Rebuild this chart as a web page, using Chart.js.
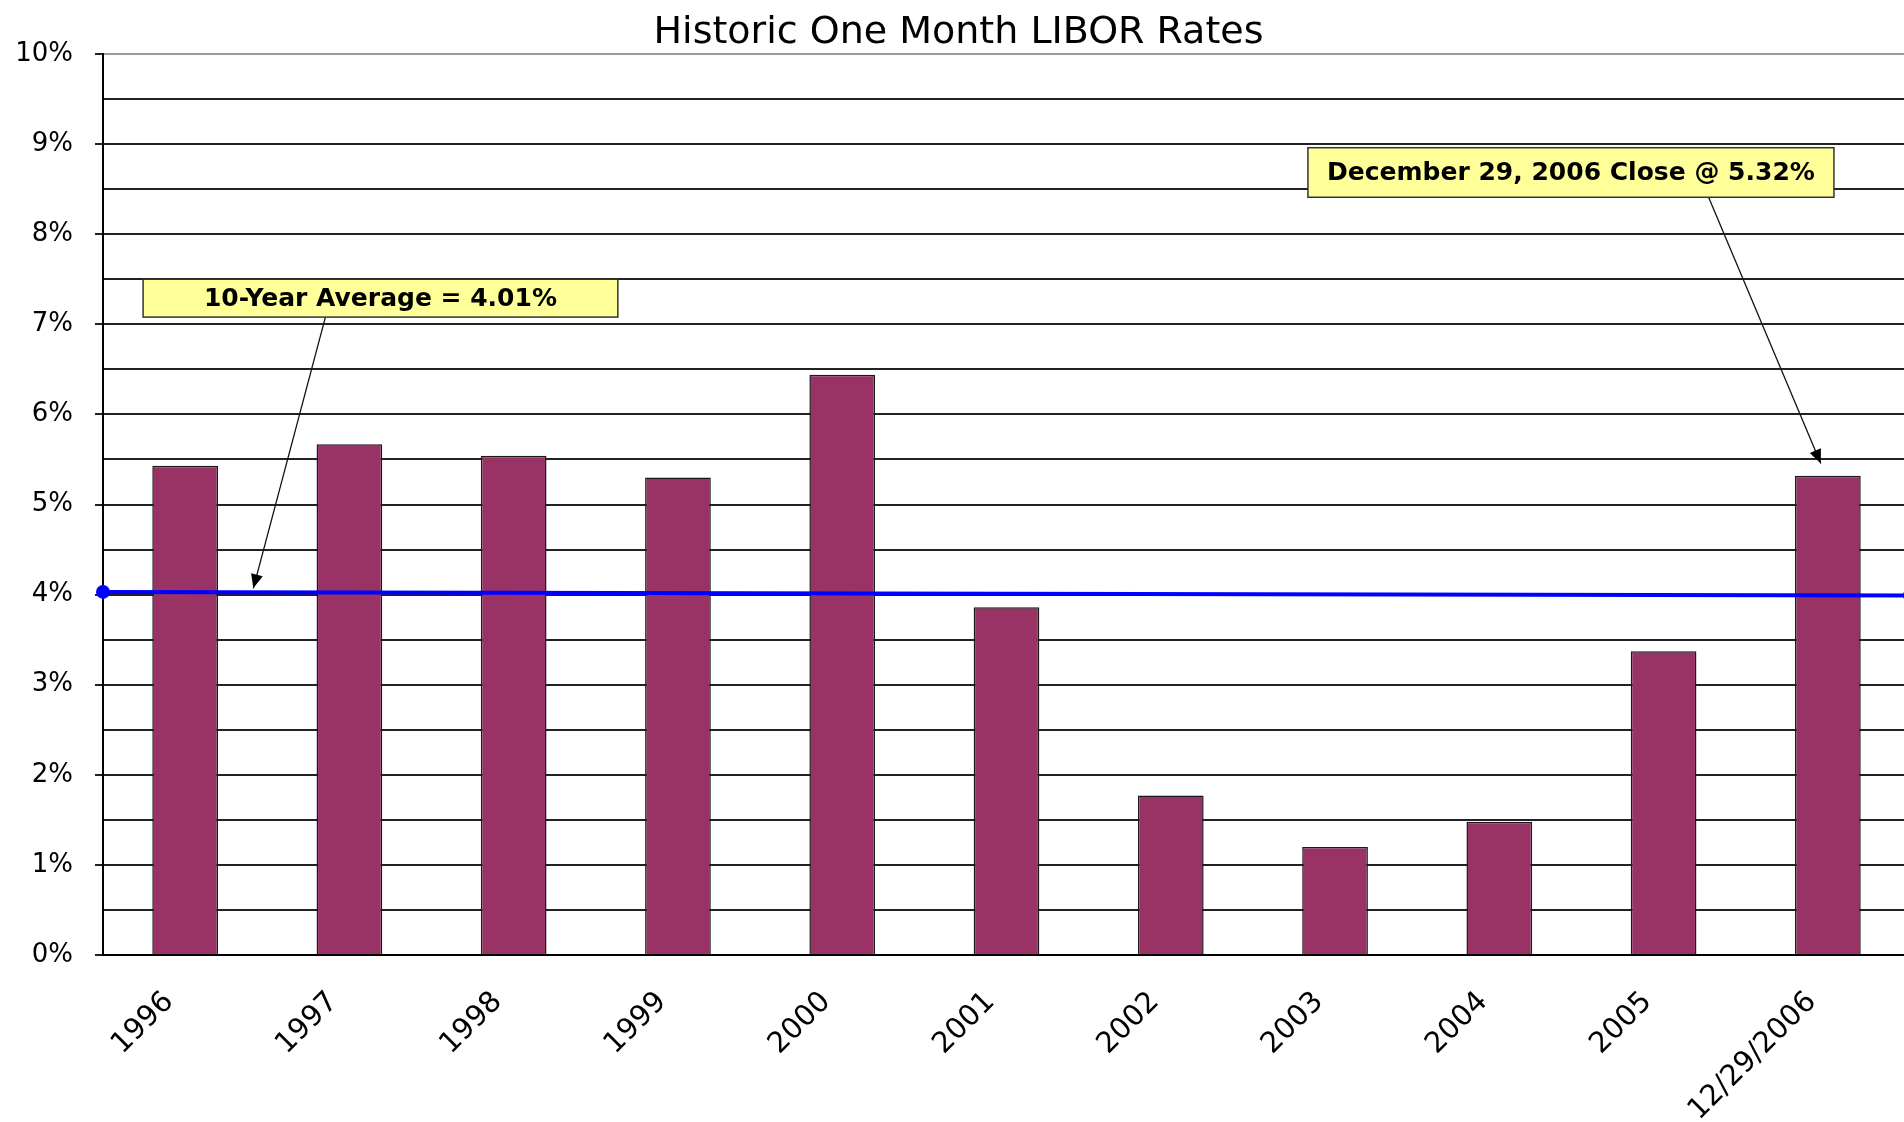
<!DOCTYPE html>
<html>
<head>
<meta charset="utf-8">
<title>Historic One Month LIBOR Rates</title>
<script src="https://cdn.jsdelivr.net/npm/chart.js@4.4.1/dist/chart.umd.min.js"></script>
<style>
  html, body { margin: 0; padding: 0; background: #ffffff; overflow: hidden; }
  #wrap { position: relative; width: 1917px; height: 1122px; }
</style>
</head>
<body>
<div id="wrap"><canvas id="chart"></canvas></div>
<script>
// ---- data ----
const categories = ['1996', '1997', '1998', '1999', '2000', '2001', '2002', '2003', '2004', '2005', '12/29/2006'];
const liborRates = [5.43, 5.67, 5.54, 5.30, 6.44, 3.86, 1.77, 1.20, 1.48, 3.37, 5.32];
const averageLine = [4.03, 3.99];
const titleText = 'Historic One Month LIBOR Rates';
const noteTexts = ['10-Year Average = 4.01%', 'December 29, 2006 Close @ 5.32%'];

// ---- annotation boxes with arrows (positions in data units: category index, percent) ----
const notesPlugin = {
  id: 'notes',
  afterDatasetsDraw(chart, args, opts) {
    const ctx = chart.ctx;
    const x = chart.scales.x, y = chart.scales.y;
    opts.items.forEach(n => {
      const bx1 = x.getPixelForValue(n.box[0]), by1 = y.getPixelForValue(n.box[1]);
      const bx2 = x.getPixelForValue(n.box[2]), by2 = y.getPixelForValue(n.box[3]);
      const ax1 = x.getPixelForValue(n.from[0]), ay1 = y.getPixelForValue(n.from[1]);
      const ax2 = x.getPixelForValue(n.to[0]), ay2 = y.getPixelForValue(n.to[1]);
      ctx.save();
      ctx.strokeStyle = '#111';
      ctx.lineWidth = 1.3;
      ctx.beginPath();
      ctx.moveTo(ax1, ay1);
      ctx.lineTo(ax2, ay2);
      ctx.stroke();
      const ang = Math.atan2(ay2 - ay1, ax2 - ax1);
      const L = 14, W = 6;
      ctx.fillStyle = '#000';
      ctx.beginPath();
      ctx.moveTo(ax2, ay2);
      ctx.lineTo(ax2 - L * Math.cos(ang) + W * Math.sin(ang), ay2 - L * Math.sin(ang) - W * Math.cos(ang));
      ctx.lineTo(ax2 - L * Math.cos(ang) - W * Math.sin(ang), ay2 - L * Math.sin(ang) + W * Math.cos(ang));
      ctx.closePath();
      ctx.fill();
      ctx.fillStyle = '#FFFF99';
      ctx.fillRect(bx1, by1, bx2 - bx1, by2 - by1);
      ctx.strokeStyle = '#333';
      ctx.lineWidth = 1.5;
      ctx.strokeRect(bx1, by1, bx2 - bx1, by2 - by1);
      ctx.fillStyle = '#000';
      ctx.font = 'bold 25px "DejaVu Sans", sans-serif';
      ctx.textAlign = 'center';
      ctx.textBaseline = 'middle';
      ctx.fillText(n.text, (bx1 + bx2) / 2, (by1 + by2) / 2 + 1);
      ctx.restore();
    });
  }
};

Chart.defaults.font.family = '"DejaVu Sans", sans-serif';
Chart.defaults.color = '#000';

new Chart(document.getElementById('chart'), {
  type: 'bar',
  data: {
    labels: categories,
    datasets: [
      {
        type: 'line',
        label: '10-Year Average',
        xAxisID: 'xAvg',
        yAxisID: 'y',
        data: averageLine.map((v, i) => ({ x: i, y: v })),
        borderColor: '#0000FF',
        borderWidth: 4,
        pointRadius: 7,
        pointBackgroundColor: '#0000FF',
        pointBorderColor: '#0000FF',
        pointBorderWidth: 0,
        clip: false,
        order: 0
      },
      {
        type: 'bar',
        label: 'One Month LIBOR',
        xAxisID: 'x',
        yAxisID: 'y',
        data: liborRates,
        backgroundColor: '#993366',
        borderColor: '#1a1a1a',
        borderWidth: 1.5,
        grouped: false,
        barPercentage: 0.8,
        categoryPercentage: 0.5,
        order: 1
      }
    ]
  },
  options: {
    responsive: true,
    maintainAspectRatio: false,
    devicePixelRatio: 1,
    animation: false,
    layout: { padding: { left: 0, right: 0, top: 0, bottom: 0 } },
    plugins: {
      legend: { display: false },
      tooltip: { enabled: false },
      title: {
        display: true,
        text: titleText,
        color: '#000',
        font: { size: 38, weight: 'normal', lineHeight: 1.0 },
        padding: { top: 14, bottom: 2 }
      },
      notes: {
        items: [
          { text: noteTexts[0], box: [-0.256, 7.50, 2.634, 7.08], from: [0.854, 7.08], to: [0.415, 4.07] },
          { text: noteTexts[1], box: [6.835, 8.96, 10.037, 8.41], from: [9.274, 8.41], to: [9.957, 5.455] }
        ]
      }
    },
    scales: {
      x: {
        type: 'category',
        offset: true,
        afterFit(s) { s.height = 167; },
        grid: { display: false, drawTicks: false },
        border: { display: true, color: '#000', width: 2 },
        ticks: {
          minRotation: 45,
          maxRotation: 45,
          autoSkip: false,
          padding: 30,
          labelOffset: -16,
          color: '#000',
          font: { size: 29 }
        }
      },
      xAvg: {
        type: 'linear',
        display: false,
        offset: false,
        min: 0,
        max: averageLine.length - 1
      },
      y: {
        type: 'linear',
        min: 0,
        max: 10,
        afterFit(s) { s.width = 103; },
        border: { display: true, color: '#000', width: 2 },
        grid: {
          color: c => (c.tick && c.tick.value === 10) ? '#9a9a9a' : '#222',
          lineWidth: 2,
          drawTicks: true,
          tickLength: 8,
          tickColor: c => (c.tick && Number.isInteger(c.tick.value)) ? '#222' : 'rgba(0,0,0,0)'
        },
        ticks: {
          stepSize: 0.5,
          autoSkip: false,
          padding: 22,
          color: '#000',
          font: { size: 26 },
          callback: v => Number.isInteger(v) ? v + '%' : ''
        }
      }
    }
  },
  plugins: [notesPlugin]
});
</script>
</body>
</html>
